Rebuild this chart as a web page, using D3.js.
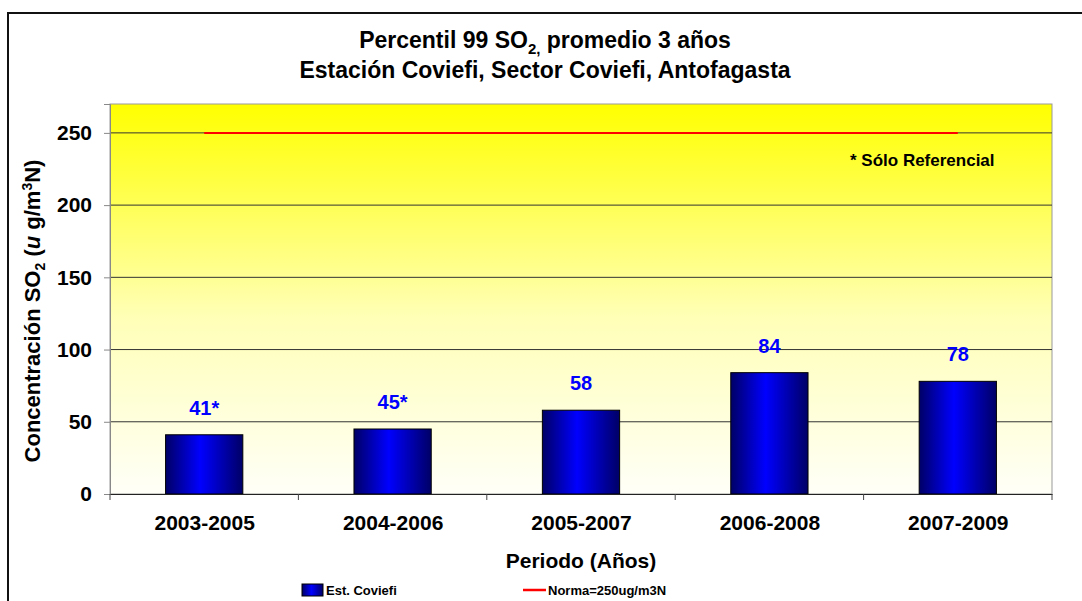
<!DOCTYPE html>
<html>
<head>
<meta charset="utf-8">
<script src="https://cdn.jsdelivr.net/npm/d3@7"></script>
<style>
  body { margin: 0; background: #fff; }
  svg text { font-family: "Liberation Sans", Arial, sans-serif; font-weight: bold; }
</style>
</head>
<body>
<script>
// données du graphique
const periodes = ["2003-2005", "2004-2006", "2005-2007", "2006-2008", "2007-2009"];
const valeurs = [41, 45, 58, 84, 78];
const etiquettes = ["41*", "45*", "58", "84", "78"];
const norma = 250;
const ticksY = [0, 50, 100, 150, 200, 250];

const largeur = 1082, hauteur = 601;
const marge = { gauche: 110, droite: 1052, haut: 104, bas: 494 };

const svg = d3.select("body").append("svg")
    .attr("width", largeur)
    .attr("height", hauteur);

// dégradés
const defs = svg.append("defs");
const fond = defs.append("linearGradient").attr("id", "fond")
    .attr("x1", 0).attr("y1", 0).attr("x2", 0).attr("y2", 1);
fond.append("stop").attr("offset", "0%").attr("stop-color", "#ffff00");
fond.append("stop").attr("offset", "55%").attr("stop-color", "#ffffb8");
fond.append("stop").attr("offset", "100%").attr("stop-color", "#fffff8");

const barreGrad = defs.append("linearGradient").attr("id", "barre")
    .attr("x1", 0).attr("y1", 0).attr("x2", 1).attr("y2", 0);
barreGrad.append("stop").attr("offset", "0%").attr("stop-color", "#000066");
barreGrad.append("stop").attr("offset", "45%").attr("stop-color", "#0000ff");
barreGrad.append("stop").attr("offset", "100%").attr("stop-color", "#000066");

// cadre extérieur
svg.append("rect")
    .attr("x", 8).attr("y", 13)
    .attr("width", largeur + 20).attr("height", hauteur + 20)
    .attr("fill", "none").attr("stroke", "#111").attr("stroke-width", 2);

// échelles
const x = d3.scaleBand().domain(periodes).range([marge.gauche, marge.droite]).paddingInner(0.59).paddingOuter(0.295);
const xCentre = d3.scalePoint().domain(periodes).range([marge.gauche, marge.droite]).padding(0.5);
const y = d3.scaleLinear().domain([0, 270]).range([marge.bas, marge.haut]);

// zone de tracé
svg.append("rect")
    .attr("x", marge.gauche).attr("y", marge.haut)
    .attr("width", marge.droite - marge.gauche).attr("height", marge.bas - marge.haut)
    .attr("fill", "url(#fond)")
    .attr("stroke", "#999").attr("stroke-width", 1);

// lignes de grille
svg.selectAll(".grille").data(ticksY.filter(d => d > 0)).enter().append("line")
    .attr("x1", marge.gauche).attr("x2", marge.droite)
    .attr("y1", d => y(d)).attr("y2", d => y(d))
    .attr("stroke", "#333").attr("stroke-width", 1);

// barres
svg.selectAll(".barre").data(valeurs).enter().append("rect")
    .attr("x", (d, i) => x(periodes[i]))
    .attr("y", d => y(d))
    .attr("width", x.bandwidth())
    .attr("height", d => y(0) - y(d))
    .attr("fill", "url(#barre)")
    .attr("stroke", "#000").attr("stroke-width", 1);

// ligne norme
svg.append("line")
    .attr("x1", xCentre(periodes[0])).attr("x2", xCentre(periodes[periodes.length - 1]))
    .attr("y1", y(norma)).attr("y2", y(norma))
    .attr("stroke", "#ff0000").attr("stroke-width", 2);

// étiquettes des valeurs
svg.selectAll(".etiq").data(valeurs).enter().append("text")
    .attr("x", (d, i) => xCentre(periodes[i]))
    .attr("y", d => y(d) - 20)
    .attr("text-anchor", "middle")
    .attr("fill", "#0000ff")
    .style("font-size", "20px")
    .text((d, i) => etiquettes[i]);

// axe Y
const axeY = svg.append("g").attr("transform", `translate(${marge.gauche},0)`)
    .call(d3.axisLeft(y).tickValues(ticksY).tickSize(6).tickPadding(12));
axeY.select(".domain").attr("stroke", "#888");
axeY.selectAll(".tick line").attr("stroke", "#888");
axeY.selectAll("text").style("font-size", "21px").attr("fill", "#000")
    .style("font-family", "'Liberation Sans', Arial, sans-serif");

// axe X
const axeX = svg.append("g").attr("transform", `translate(0,${marge.bas})`)
    .call(d3.axisBottom(xCentre).tickSize(0).tickPadding(21));
axeX.select(".domain").attr("stroke", "#222");
axeX.selectAll("text").style("font-size", "21px").attr("fill", "#000")
    .style("font-family", "'Liberation Sans', Arial, sans-serif");
// petits traits entre catégories
const pas = (marge.droite - marge.gauche) / periodes.length;
svg.selectAll(".trait").data(d3.range(periodes.length + 1)).enter().append("line")
    .attr("x1", d => marge.gauche + d * pas).attr("x2", d => marge.gauche + d * pas)
    .attr("y1", marge.bas).attr("y2", marge.bas + 6)
    .attr("stroke", "#444");

// titres
const titre = svg.append("text").attr("x", 545).attr("y", 48).attr("text-anchor", "middle")
    .style("font-size", "23px");
titre.append("tspan").text("Percentil 99 SO");
titre.append("tspan").attr("dy", 6).style("font-size", "15px").text("2,");
titre.append("tspan").attr("dy", -6).text(" promedio 3 años");

svg.append("text").attr("x", 545).attr("y", 78).attr("text-anchor", "middle")
    .style("font-size", "23px")
    .text("Estación Coviefi, Sector Coviefi, Antofagasta");

// titre axe Y
const titreY = svg.append("text")
    .attr("transform", "translate(40,311) rotate(-90)")
    .attr("text-anchor", "middle")
    .style("font-size", "22px");
titreY.append("tspan").text("Concentración SO");
titreY.append("tspan").attr("dy", 5).style("font-size", "14px").text("2");
titreY.append("tspan").attr("dy", -5).text(" (");
titreY.append("tspan").style("font-style", "italic").text("u");
titreY.append("tspan").text(" g/m");
titreY.append("tspan").attr("dy", -8).style("font-size", "14px").text("3");
titreY.append("tspan").attr("dy", 8).text("N)");

// titre axe X
svg.append("text").attr("x", 581).attr("y", 568).attr("text-anchor", "middle")
    .style("font-size", "21px").text("Periodo (Años)");

// note
svg.append("text").attr("x", 850).attr("y", 166)
    .style("font-size", "17px").text("* Sólo Referencial");

// légende
svg.append("rect").attr("x", 302).attr("y", 584).attr("width", 21).attr("height", 12)
    .attr("fill", "url(#barre)").attr("stroke", "#000");
svg.append("text").attr("x", 326).attr("y", 595).style("font-size", "13px").text("Est. Coviefi");
svg.append("line").attr("x1", 523).attr("x2", 546).attr("y1", 590).attr("y2", 590)
    .attr("stroke", "#ff0000").attr("stroke-width", 2.5);
svg.append("text").attr("x", 548).attr("y", 595).style("font-size", "13px").text("Norma=250ug/m3N");
</script>
</body>
</html>
